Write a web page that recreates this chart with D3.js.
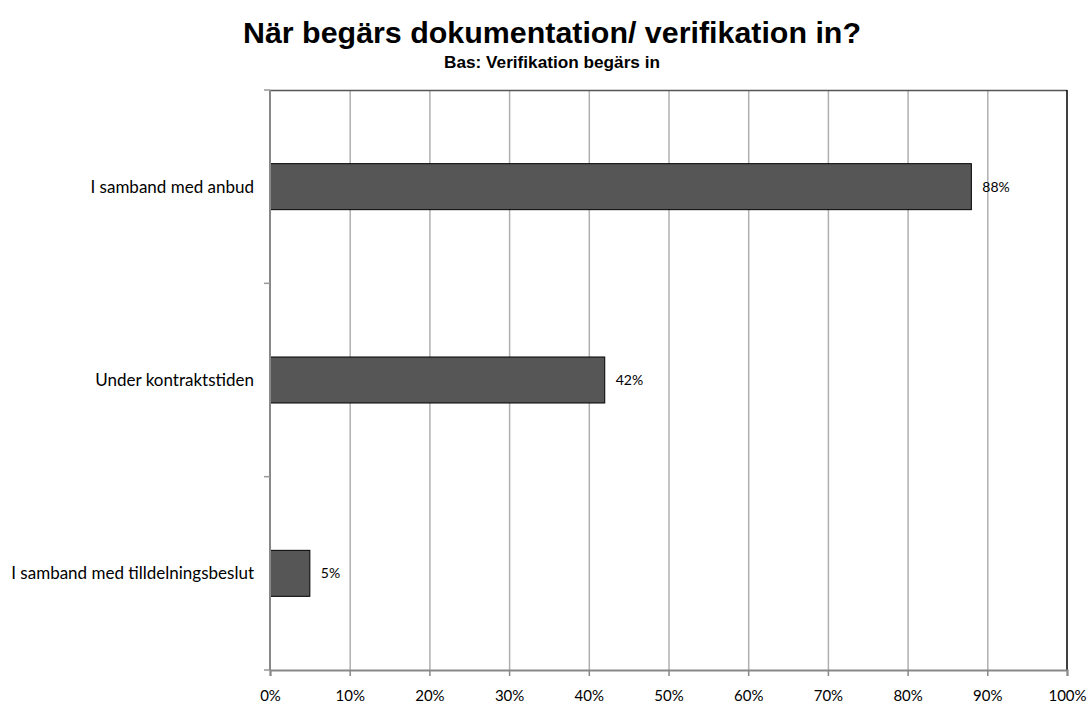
<!DOCTYPE html>
<html>
<head>
<meta charset="utf-8">
<script src="https://cdn.jsdelivr.net/npm/d3@7"></script>
<style>
  body { margin: 0; background: #fff; }
  svg text { font-family: Lato, "Open Sans", sans-serif; }
</style>
</head>
<body>
<div id="chart"></div>
<script>
// data
const categories = ["I samband med anbud", "Under kontraktstiden", "I samband med tilldelningsbeslut"];
const values = [88, 42, 5];
const xTicks = [0, 10, 20, 30, 40, 50, 60, 70, 80, 90, 100];
const title = "När begärs dokumentation/ verifikation in?";
const subtitle = "Bas: Verifikation begärs in";

const W = 1090, H = 708;
let margin = { top: 90, right: 23, bottom: 38, left: 270 },
  width = W - margin.left - margin.right,
  height = H - margin.top - margin.bottom;

const root = d3.select("#chart").append("svg")
  .attr("width", W).attr("height", H);

root.append("text")
  .attr("x", 552).attr("y", 43)
  .attr("text-anchor", "middle")
  .attr("textLength", 618).attr("lengthAdjust", "spacingAndGlyphs")
  .style("font-family", "'Liberation Sans', Arial, sans-serif")
  .style("font-weight", "bold").style("font-size", "30px")
  .text(title);
root.append("text")
  .attr("x", 552).attr("y", 68)
  .attr("text-anchor", "middle")
  .attr("textLength", 216).attr("lengthAdjust", "spacingAndGlyphs")
  .style("font-family", "'Liberation Sans', Arial, sans-serif")
  .style("font-weight", "bold").style("font-size", "17px")
  .text(subtitle);

const svg = root.append("g")
  .attr("transform", "translate(" + margin.left + "," + margin.top + ")");

const x = d3.scaleLinear().domain([0, 100]).range([0, width]);
const y = d3.scaleBand().domain(categories).range([0, height]);

// gridlines
svg.append("g")
  .selectAll("line")
  .data(xTicks.slice(1, -1))
  .enter()
  .append("line")
  .attr("x1", (d) => x(d) + 0.5).attr("x2", (d) => x(d) + 0.5)
  .attr("y1", 0).attr("y2", height)
  .attr("stroke", "#b0b0b0").attr("stroke-width", 1.5);

// top and right border
svg.append("line")
  .attr("x1", 0).attr("x2", width).attr("y1", 0.5).attr("y2", 0.5)
  .attr("stroke", "#555").attr("stroke-width", 1.5);
svg.append("line")
  .attr("x1", width).attr("x2", width).attr("y1", 0).attr("y2", height)
  .attr("stroke", "#000").attr("stroke-width", 1.5);

// bars
const barH = 46;
svg.append("g")
  .selectAll("rect")
  .data(values)
  .enter()
  .append("rect")
  .attr("x", x(0))
  .attr("y", (d, i) => y(categories[i]) + y.bandwidth() / 2 - barH / 2)
  .attr("width", (d) => x(d) - x(0))
  .attr("height", barH)
  .attr("fill", "#565656")
  .attr("stroke", "#000").attr("stroke-width", 1);

// value labels
svg.append("g")
  .selectAll("text")
  .data(values)
  .enter()
  .append("text")
  .attr("x", (d) => x(d) + 11)
  .attr("y", (d, i) => y(categories[i]) + y.bandwidth() / 2 + 5)
  .style("font-size", "14px")
  .attr("fill", "#000")
  .text((d) => d + "%");

// x axis
const xAxis = svg.append("g")
  .attr("transform", "translate(0," + height + ")")
  .call(d3.axisBottom(x).tickValues(xTicks).tickFormat((d) => d + "%").tickSize(6).tickPadding(14));
xAxis.select(".domain").attr("stroke", "#888").attr("stroke-width", 2);
xAxis.selectAll(".tick line").attr("stroke", "#888").attr("stroke-width", 1.5);
xAxis.selectAll("text").style("font-size", "15px").style("font-family", "Lato, 'Open Sans', sans-serif").attr("fill", "#000");

// y axis (ticks between categories)
const yAxis = svg.append("g");
yAxis.append("line")
  .attr("x1", 0).attr("x2", 0).attr("y1", 0).attr("y2", height)
  .attr("stroke", "#888").attr("stroke-width", 2);
const bounds = categories.map((c) => y(c)).concat([height]);
yAxis.selectAll(".yt")
  .data(bounds)
  .enter()
  .append("line")
  .attr("x1", -6).attr("x2", 0)
  .attr("y1", (d) => d).attr("y2", (d) => d)
  .attr("stroke", "#999").attr("stroke-width", 1.5);
yAxis.selectAll(".ylab")
  .data(categories)
  .enter()
  .append("text")
  .attr("x", -16)
  .attr("y", (d) => y(d) + y.bandwidth() / 2 + 6)
  .attr("text-anchor", "end")
  .style("font-size", "17px")
  .attr("fill", "#000")
  .text((d) => d);
</script>
</body>
</html>
